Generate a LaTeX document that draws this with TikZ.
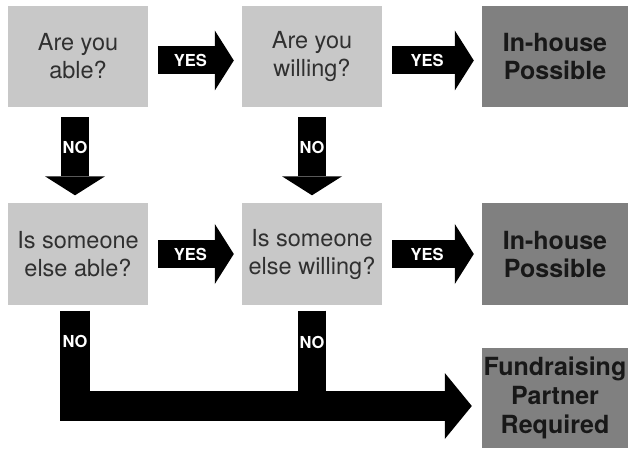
\documentclass[tikz,border=0pt]{standalone}
\usepackage{fontspec}
\setmainfont{TeX Gyre Heros}
\usetikzlibrary{arrows.meta}
\definecolor{question}{RGB}{200,200,200}
\definecolor{outcome}{RGB}{128,128,128}
\definecolor{questiontext}{RGB}{48,48,48}
\definecolor{outcometext}{RGB}{24,24,24}
\tikzstyle{question box}=[fill=question, text=questiontext, minimum width=140pt, minimum height=101pt, inner sep=0pt, align=center, font=\fontsize{23.5}{28}\selectfont]
\tikzstyle{outcome box}=[fill=outcome, text=outcometext, minimum width=146pt, minimum height=101pt, inner sep=0pt, align=center, font=\fontsize{25}{28}\selectfont\bfseries]
\tikzstyle{fat arrow}=[line width=28pt, draw=black, -{Triangle[length=19pt, width=60pt, line width=0pt]}, shorten <=10pt, shorten >=8pt]
\tikzstyle{answer}=[text=white, font=\fontsize{16.5}{16.5}\selectfont\bfseries]

\begin{document}
\begin{tikzpicture}[x=1pt, y=-1pt]
    \useasboundingbox (0,0) rectangle (629,449);

    \node[question box] (able) at (78,56.5) {Are you\\able?};
    \node[question box] (willing) at (312,56.5) {Are you\\willing?};
    \node[outcome box] (inhouse1) at (555,56.5) {In-house\\Possible};

    \node[question box] (elseable) at (78,254) {Is someone\\else able?};
    \node[question box] (elsewilling) at (312,254) {Is someone\\else willing?};
    \node[outcome box] (inhouse2) at (555,254) {In-house\\Possible};

    \node[outcome box, minimum height=100pt, font=\fontsize{25}{29}\selectfont\bfseries] (partner) at (555,398) {Fundraising\\Partner\\Required};
    \coordinate (join) at ([yshift=-8pt]partner.west);

    \draw[fat arrow] ([yshift=-4pt]able.east) -- ([yshift=-4pt]willing.west)
        node[answer, pos=0.45]{YES};
    \draw[fat arrow] ([yshift=-4pt]willing.east) -- ([yshift=-4pt]inhouse1.west)
        node[answer, pos=0.45]{YES};
    \draw[fat arrow] (elseable.east) -- (elsewilling.west)
        node[answer, pos=0.45]{YES};
    \draw[fat arrow] (elsewilling.east) -- (inhouse2.west)
        node[answer, pos=0.45]{YES};

    \draw[fat arrow] ([xshift=-3pt]able.south) -- ([xshift=-3pt]elseable.north)
        node[answer, pos=0.42]{NO};
    \draw[fat arrow] (willing.south) -- (elsewilling.north)
        node[answer, pos=0.42]{NO};

    \draw[line width=28pt, shorten <=6pt] (elsewilling.south) -- (elsewilling.south |- join)
        node[answer, pos=0.37]{NO};
    \draw[fat arrow, line width=30pt, line join=miter, shorten <=6pt, shorten >=10pt,
        -{Triangle[length=27pt, width=66pt, line width=0pt]}]
        ([xshift=-3pt]elseable.south) |- (join)
        node[answer, pos=0.18]{NO};
\end{tikzpicture}
\end{document}
